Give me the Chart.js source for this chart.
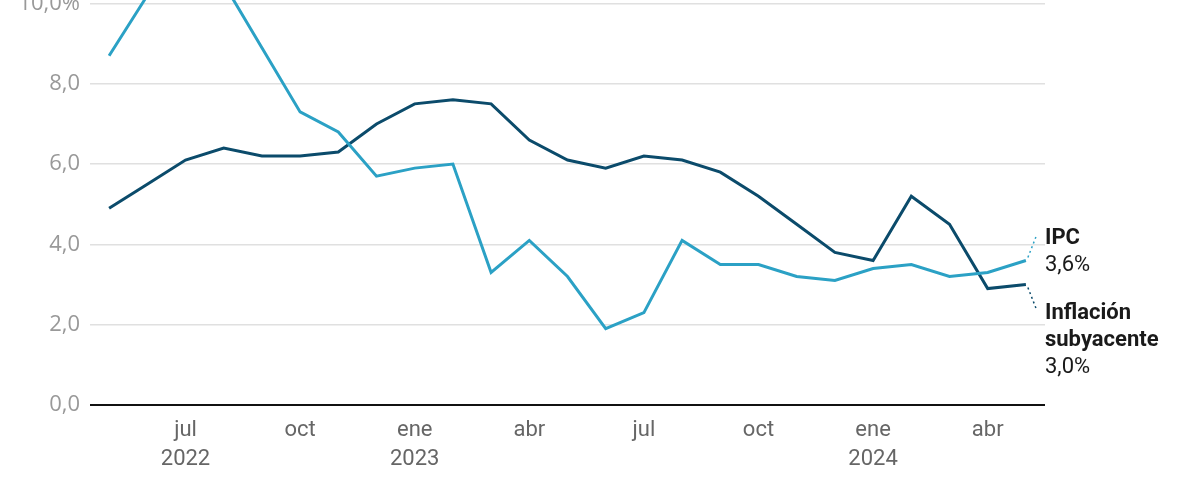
<!DOCTYPE html>
<html lang="es">
<head>
<meta charset="utf-8">
<title>IPC e inflación subyacente</title>
<script src="https://cdn.jsdelivr.net/npm/chart.js@4.4.1/dist/chart.umd.min.js"></script>
<style>
  html, body { margin: 0; padding: 0; background: #fff; overflow: hidden; }
  #wrap { position: relative; width: 1200px; height: 500px; overflow: hidden; }
  #chart { position: absolute; left: 0; top: -100px; }
</style>
</head>
<body>
<div id="wrap">
  <canvas id="chart" width="1200" height="620"></canvas>
</div>
<script>
// ============================================
// DATOS
// ============================================

// meses de may 2022 a may 2024
const meses = [
    'may 2022', 'jun 2022', 'jul 2022', 'ago 2022', 'sep 2022', 'oct 2022', 'nov 2022', 'dic 2022',
    'ene 2023', 'feb 2023', 'mar 2023', 'abr 2023', 'may 2023', 'jun 2023', 'jul 2023', 'ago 2023',
    'sep 2023', 'oct 2023', 'nov 2023', 'dic 2023', 'ene 2024', 'feb 2024', 'mar 2024', 'abr 2024',
    'may 2024'
];

const ipc = [
    8.7, 10.2, 10.8, 10.5, 8.9, 7.3, 6.8, 5.7,
    5.9, 6.0, 3.3, 4.1, 3.2, 1.9, 2.3, 4.1,
    3.5, 3.5, 3.2, 3.1, 3.4, 3.5, 3.2, 3.3,
    3.6
];

const subyacente = [
    4.9, 5.5, 6.1, 6.4, 6.2, 6.2, 6.3, 7.0,
    7.5, 7.6, 7.5, 6.6, 6.1, 5.9, 6.2, 6.1,
    5.8, 5.2, 4.5, 3.8, 3.6, 5.2, 4.5, 2.9,
    3.0
];

// etiquetas del eje X (índice del mes -> texto)
const etiquetasX = {
    2: ['jul', '2022'],
    5: 'oct',
    8: ['ene', '2023'],
    11: 'abr',
    14: 'jul',
    17: 'oct',
    20: ['ene', '2024'],
    23: 'abr'
};

const ticksY = [0, 2, 4, 6, 8, 10];

const COLOR_IPC = '#2ba1c5';
const COLOR_SUB = '#0b4b6b';

// ============================================
// ETIQUETAS FINALES
// ============================================

const finalLabels = {
    id: 'finalLabels',
    afterDatasetsDraw(chart) {
        const ctx = chart.ctx;
        const x = chart.scales.x;
        const y = chart.scales.y;
        const last = meses.length - 1;
        const px = x.getPixelForValue(last);
        const yIpc = y.getPixelForValue(ipc[last]);
        const ySub = y.getPixelForValue(subyacente[last]);
        const tx = chart.chartArea.right;

        ctx.save();
        ctx.lineWidth = 1.5;
        ctx.setLineDash([2, 3]);

        ctx.strokeStyle = COLOR_IPC;
        ctx.beginPath();
        ctx.moveTo(px + 2, yIpc - 3);
        ctx.lineTo(px + 11, yIpc - 26);
        ctx.stroke();

        ctx.strokeStyle = COLOR_SUB;
        ctx.beginPath();
        ctx.moveTo(px + 2, ySub + 3);
        ctx.lineTo(px + 11, ySub + 26);
        ctx.stroke();
        ctx.setLineDash([]);

        ctx.fillStyle = '#1a1a1a';
        ctx.textAlign = 'left';
        ctx.textBaseline = 'middle';

        ctx.font = 'bold 22px Roboto';
        ctx.fillText('IPC', tx, yIpc - 22);
        ctx.font = '22px Roboto';
        ctx.fillText('3,6%', tx, yIpc + 5);

        ctx.font = 'bold 22px Roboto';
        ctx.fillText('Inflación', tx, ySub + 29);
        ctx.fillText('subyacente', tx, ySub + 56);
        ctx.font = '22px Roboto';
        ctx.fillText('3,0%', tx, ySub + 83);
        ctx.restore();
    }
};

// ============================================
// GRÁFICO
// ============================================

new Chart(document.getElementById('chart'), {
    type: 'line',
    data: {
        labels: meses,
        datasets: [
            {
                label: 'IPC',
                data: ipc,
                borderColor: COLOR_IPC,
                borderWidth: 3,
                pointRadius: 0,
                tension: 0,
                fill: false
            },
            {
                label: 'Inflación subyacente',
                data: subyacente,
                borderColor: COLOR_SUB,
                borderWidth: 3,
                pointRadius: 0,
                tension: 0,
                fill: false
            }
        ]
    },
    options: {
        responsive: false,
        animation: false,
        layout: {
            padding: { top: 19, right: 155, left: 0, bottom: 0 }
        },
        plugins: {
            legend: { display: false },
            tooltip: { enabled: false }
        },
        scales: {
            x: {
                offset: true,
                grid: { display: false, drawTicks: false },
                border: { display: false },
                afterFit(scale) { scale.height = 115; },
                ticks: {
                    autoSkip: false,
                    maxRotation: 0,
                    padding: 11,
                    color: '#666',
                    font: { family: 'Roboto', size: 22, lineHeight: 1.32 },
                    callback: (value, index) => etiquetasX[index] || ''
                }
            },
            y: {
                min: 0,
                max: 12,
                afterFit(scale) { scale.width = 90; },
                afterBuildTicks(scale) {
                    scale.ticks = ticksY.map(v => ({ value: v }));
                },
                border: { display: false },
                grid: {
                    drawTicks: false,
                    color: c => c.tick.value === 0 ? '#111' : '#e0e0e0',
                    lineWidth: c => c.tick.value === 0 ? 2 : 1.5
                },
                ticks: {
                    padding: 10,
                    color: '#999',
                    font: { family: 'Open Sans', size: 22 },
                    callback: v => v === 10 ? '10,0%' : v.toFixed(1).replace('.', ',')
                }
            }
        }
    },
    plugins: [finalLabels]
});
</script>
</body>
</html>
